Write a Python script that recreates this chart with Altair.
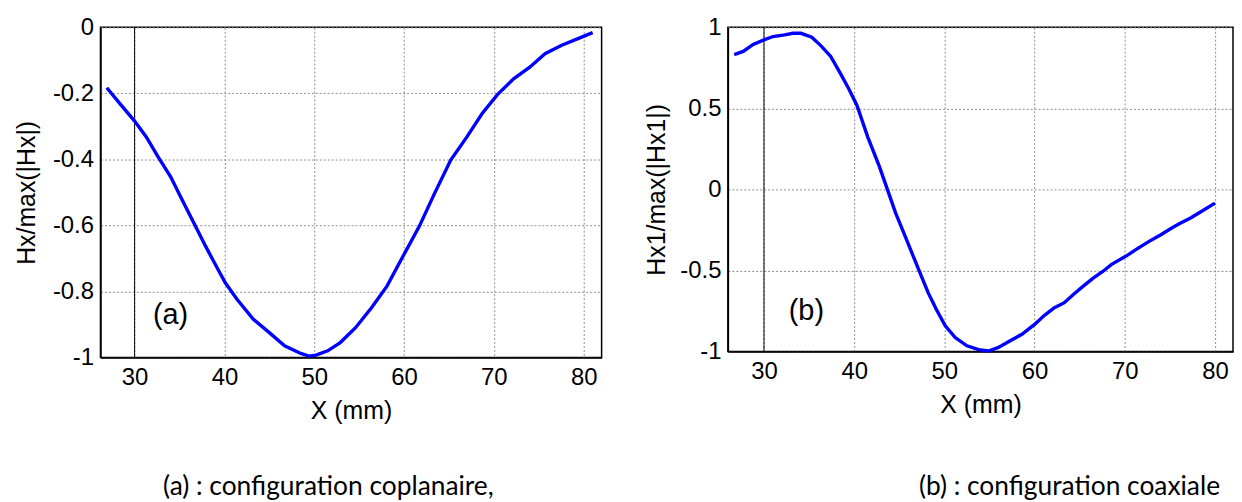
import altair as alt
import pandas as pd

# ---- data ----
xa = [26.9, 28.2, 30.0, 31.3, 32.6, 34.0, 35.3, 36.6, 37.9, 39.2, 40.1, 41.4,
      43.2, 45.0, 46.7, 48.5, 49.4, 50.2, 51.5, 52.9, 54.6, 56.4, 58.1, 59.9,
      61.7, 63.4, 65.2, 67.0, 68.7, 70.4, 72.2, 74.0, 75.7, 77.5, 79.3, 81.0]
ya = [-0.183, -0.226, -0.284, -0.332, -0.392, -0.452, -0.523, -0.593, -0.663,
      -0.729, -0.774, -0.824, -0.884, -0.925, -0.965, -0.988, -0.996, -0.993,
      -0.980, -0.955, -0.910, -0.849, -0.784, -0.693, -0.603, -0.503, -0.402,
      -0.332, -0.261, -0.204, -0.156, -0.121, -0.080, -0.055, -0.035, -0.016]

xb = [26.7, 27.7, 28.8, 30.0, 31.0, 32.3, 33.2, 34.1, 35.3, 36.3, 37.4, 38.5,
      39.4, 40.3, 41.5, 42.8, 43.7, 44.6, 45.5, 46.4, 47.3, 48.2, 49.1, 50.1,
      51.2, 52.5, 53.8, 54.9, 56.0, 57.3, 58.6, 60.0, 61.1, 62.2, 63.3, 64.3,
      65.4, 66.5, 67.6, 68.5, 70.1, 71.4, 72.7, 74.0, 75.3, 76.2, 77.3, 78.8,
      80.0]
yb = [0.832, 0.851, 0.894, 0.922, 0.943, 0.953, 0.963, 0.963, 0.939, 0.887,
      0.820, 0.713, 0.621, 0.519, 0.324, 0.140, -0.003, -0.146, -0.269, -0.392,
      -0.515, -0.637, -0.740, -0.842, -0.914, -0.965, -0.989, -0.997, -0.975,
      -0.934, -0.894, -0.833, -0.777, -0.730, -0.699, -0.648, -0.597, -0.548,
      -0.505, -0.464, -0.413, -0.366, -0.321, -0.280, -0.235, -0.208, -0.177,
      -0.126, -0.085]

x_ticks = [30, 40, 50, 60, 70, 80]
ya_ticks = [-1, -0.8, -0.6, -0.4, -0.2, 0]
yb_ticks = [-1, -0.5, 0, 0.5, 1]
ref_x = [30]

label_a = {"x": [34.0], "y": [-0.873], "t": ["(a)"]}
label_b = {"x": [34.7], "y": [-0.75], "t": ["(b)"]}

caption_a = "(a) : configuration coplanaire,"
caption_b = "(b) : configuration coaxiale"

AX_FONT = "Liberation Sans"
CAP_FONT = "Lato"


def panel(xs, ys, xdom, ydom, yticks, ytitle, lab, w, h, caption, anchor, dx, ytp, off):
    df = pd.DataFrame({"x": xs, "y": ys})
    X = alt.X("x:Q", scale=alt.Scale(domain=xdom, nice=False, zero=False),
              axis=alt.Axis(values=x_ticks, title="X (mm)", titlePadding=9,
                            labelPadding=8))
    Y = alt.Y("y:Q", scale=alt.Scale(domain=ydom, nice=False, zero=False),
              axis=alt.Axis(values=yticks, title=ytitle, labelExpr="'' + datum.value",
                            titlePadding=ytp, labelPadding=7))
    rule = alt.Chart(pd.DataFrame({"x": ref_x})).mark_rule(
        color="black", strokeWidth=1).encode(x=X)
    line = alt.Chart(df).mark_line(color="#0000ff", strokeWidth=3.4).encode(x=X, y=Y)
    txt = alt.Chart(pd.DataFrame(lab)).mark_text(
        font=AX_FONT, fontSize=29, color="black").encode(x=X, y=Y, text="t:N")
    return alt.layer(rule, line, txt).properties(
        width=w, height=h,
        title=alt.TitleParams(text=caption, orient="bottom", anchor=anchor,
                              frame="group", dx=dx, offset=off, font=CAP_FONT,
                              fontSize=26.5, fontWeight="normal", color="black"))


left = panel(xa, ya, [26.2, 82.0], [-1, 0], ya_ticks, "Hx/max(|Hx|)", label_a,
             504, 332, caption_a, "start", 63, 13, 51)
right = panel(xb, yb, [26.0, 82.0], [-1, 1], yb_ticks, "Hx1/max(|Hx1|)", label_b,
              508, 326, caption_b, "end", -13, 10, 57)

chart = alt.hconcat(left, right, spacing=41).properties(
    padding={"left": 5, "top": 5, "right": 0, "bottom": 0}
).configure_view(stroke="black", strokeWidth=1.5).configure_axis(
    labelFont=AX_FONT, labelFontSize=24, labelColor="black",
    titleFont=AX_FONT, titleFontSize=25, titleColor="black", titleFontWeight="normal",
    domainColor="black", domainWidth=1.5, ticks=False,
    grid=True, gridColor="#8c8c8c", gridDash=[2, 2], gridWidth=1,
)

chart.save("out.html", embed_options={"renderer": "svg", "actions": False})
